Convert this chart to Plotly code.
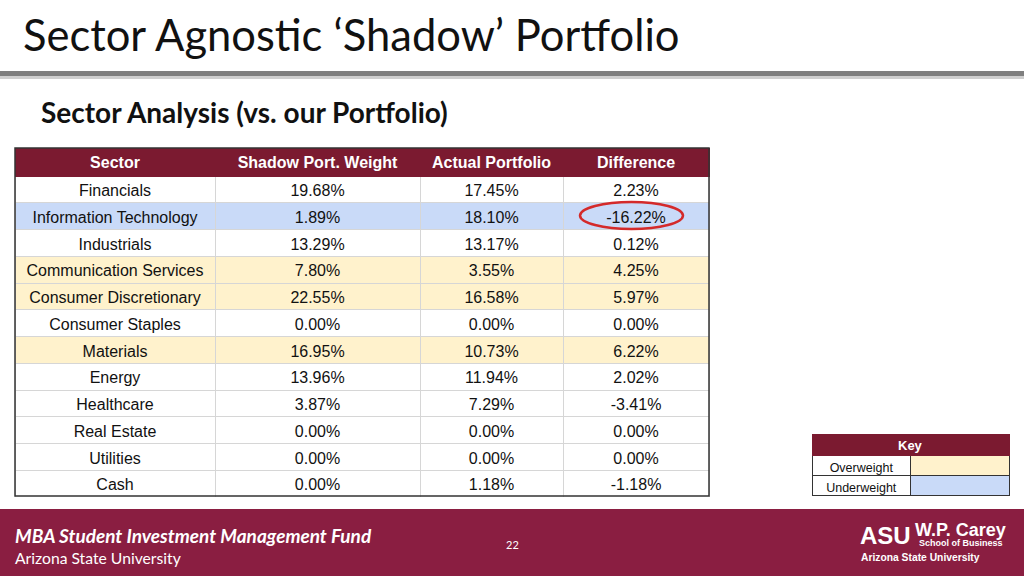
import plotly.graph_objects as go

W, H = 1024, 576

# ---- data ----
sectors = ["Financials", "Information Technology", "Industrials", "Communication Services",
           "Consumer Discretionary", "Consumer Staples", "Materials", "Energy", "Healthcare",
           "Real Estate", "Utilities", "Cash"]
shadow_weight = [19.68, 1.89, 13.29, 7.80, 22.55, 0.00, 16.95, 13.96, 3.87, 0.00, 0.00, 0.00]
actual_portfolio = [17.45, 18.10, 13.17, 3.55, 16.58, 0.00, 10.73, 11.94, 7.29, 0.00, 0.00, 1.18]
difference = [2.23, -16.22, 0.12, 4.25, 5.97, 0.00, 6.22, 2.02, -3.41, 0.00, 0.00, -1.18]
row_status = ["", "under", "", "over", "over", "", "over", "", "", "", "", ""]
headers = ["Sector", "Shadow Port. Weight", "Actual Portfolio", "Difference"]
key_title = "Key"
key_labels = ["Overweight", "Underweight"]

MAROON_HDR = "#7b1a30"
MAROON_FOOT = "#8a1e41"
YELLOW = "#fff2cc"
BLUE = "#c9daf8"
fill_map = {"": "white", "over": YELLOW, "under": BLUE}


def px_x(x):
    return x / W


def px_y(y):
    return 1 - y / H


def fmt(v):
    return f"{v:.2f}%"


row_fill = [fill_map[s] for s in row_status]

fig = go.Figure()

# main table
fig.add_trace(go.Table(
    domain=dict(x=[px_x(15), px_x(709)], y=[px_y(497), px_y(148)]),
    columnwidth=[200, 205, 143, 146],
    header=dict(
        values=headers,
        fill_color=MAROON_HDR,
        font=dict(family="Liberation Sans, Arial", size=16, color="white", weight="bold"),
        align="center", height=28,
        line=dict(color=MAROON_HDR, width=1),
    ),
    cells=dict(
        values=[sectors, [fmt(v) for v in shadow_weight], [fmt(v) for v in actual_portfolio],
                [fmt(v) for v in difference]],
        fill_color=[row_fill] * 4,
        font=dict(family="Liberation Sans, Arial", size=16, color="#111111"),
        align="center", height=26.75,
        line=dict(color="#d6d6d6", width=1),
    ),
))

# key table
fig.add_trace(go.Table(
    domain=dict(x=[px_x(812), px_x(1009)], y=[px_y(497), px_y(434)]),
    columnwidth=[1, 1],
    header=dict(
        values=["", ""],
        fill_color=MAROON_HDR,
        font=dict(family="Liberation Sans, Arial", size=12, color="white", weight="bold"),
        align="center", height=21,
        line=dict(color=MAROON_HDR, width=1),
    ),
    cells=dict(
        values=[key_labels, ["", ""]],
        fill_color=[["white", "white"], [YELLOW, BLUE]],
        font=dict(family="Liberation Sans, Arial", size=12.5, color="#111111"),
        align="center", height=20,
        line=dict(color="#333333", width=1),
    ),
))

shapes = []
# header rule under the title
shapes.append(dict(type="rect", xref="paper", yref="paper", x0=0, x1=1,
                   y0=px_y(76), y1=px_y(71), fillcolor="#7f7f7f", line=dict(width=0), layer="below"))
shapes.append(dict(type="rect", xref="paper", yref="paper", x0=0, x1=1,
                   y0=px_y(79), y1=px_y(76), fillcolor="#cfcfcf", line=dict(width=0), layer="below"))
# footer band
shapes.append(dict(type="rect", xref="paper", yref="paper", x0=0, x1=1,
                   y0=0, y1=px_y(509), fillcolor=MAROON_FOOT, line=dict(width=0), layer="below"))
# outer border of the main table
shapes.append(dict(type="rect", xref="paper", yref="paper", x0=px_x(15), x1=px_x(709),
                   y0=px_y(496), y1=px_y(148), line=dict(color="#333333", width=1.5)))
# red ellipse highlight
shapes.append(dict(type="circle", xref="paper", yref="paper", x0=px_x(580), x1=px_x(683),
                   y0=px_y(229), y1=px_y(202), line=dict(color="#d42a2a", width=2.5)))

ann = []
ann.append(dict(text="Sector Agnos\u200ctic ‘Shadow’ Portfolio", x=px_x(21), y=px_y(34),
                xanchor="left", yanchor="middle", showarrow=False,
                font=dict(family="Lato, Open Sans", size=43.5, color="#111111")))
ann.append(dict(text="<b>Sector Analysis (vs. our Portfolio)</b>", x=px_x(39), y=px_y(112),
                xanchor="left", yanchor="middle", showarrow=False,
                font=dict(family="Lato, Open Sans", size=28, color="#111111")))
ann.append(dict(text=f"<b>{key_title}</b>", x=px_x(910), y=px_y(445),
                xanchor="center", yanchor="middle", showarrow=False,
                font=dict(family="Liberation Sans, Arial", size=13, color="white")))
ann.append(dict(text="<b><i>MBA Student Investment Management Fund</i></b>", x=px_x(13), y=px_y(535),
                xanchor="left", yanchor="middle", showarrow=False,
                font=dict(family="Lato, Open Sans", size=19, color="white")))
ann.append(dict(text="Arizona State University", x=px_x(13), y=px_y(558),
                xanchor="left", yanchor="middle", showarrow=False,
                font=dict(family="Lato, Open Sans", size=15.7, color="white")))
ann.append(dict(text="22", x=px_x(512), y=px_y(544),
                xanchor="center", yanchor="middle", showarrow=False,
                font=dict(family="Lato, Open Sans", size=11, color="white")))
# logo text
ann.append(dict(text="<b>ASU</b>", x=px_x(858), y=px_y(535),
                xanchor="left", yanchor="middle", showarrow=False,
                font=dict(family="Liberation Sans, Arial", size=24, color="white")))
ann.append(dict(text="<b>W.P. Carey</b>", x=px_x(913), y=px_y(530),
                xanchor="left", yanchor="middle", showarrow=False,
                font=dict(family="Liberation Sans, Arial", size=18, color="white")))
ann.append(dict(text="<b>School of Business</b>", x=px_x(917), y=px_y(543),
                xanchor="left", yanchor="middle", showarrow=False,
                font=dict(family="Liberation Sans, Arial", size=9, color="white")))
ann.append(dict(text="<b>Arizona State University</b>", x=px_x(859), y=px_y(557),
                xanchor="left", yanchor="middle", showarrow=False,
                font=dict(family="Liberation Sans, Arial", size=10.3, color="white")))

fig.update_layout(
    width=W, height=H,
    margin=dict(l=0, r=0, t=0, b=0),
    paper_bgcolor="white", plot_bgcolor="white",
    shapes=shapes, annotations=ann,
    showlegend=False,
)

fig.write_html("out.html", post_script="document.body.style.margin='0';",
               config={"displayModeBar": False})
